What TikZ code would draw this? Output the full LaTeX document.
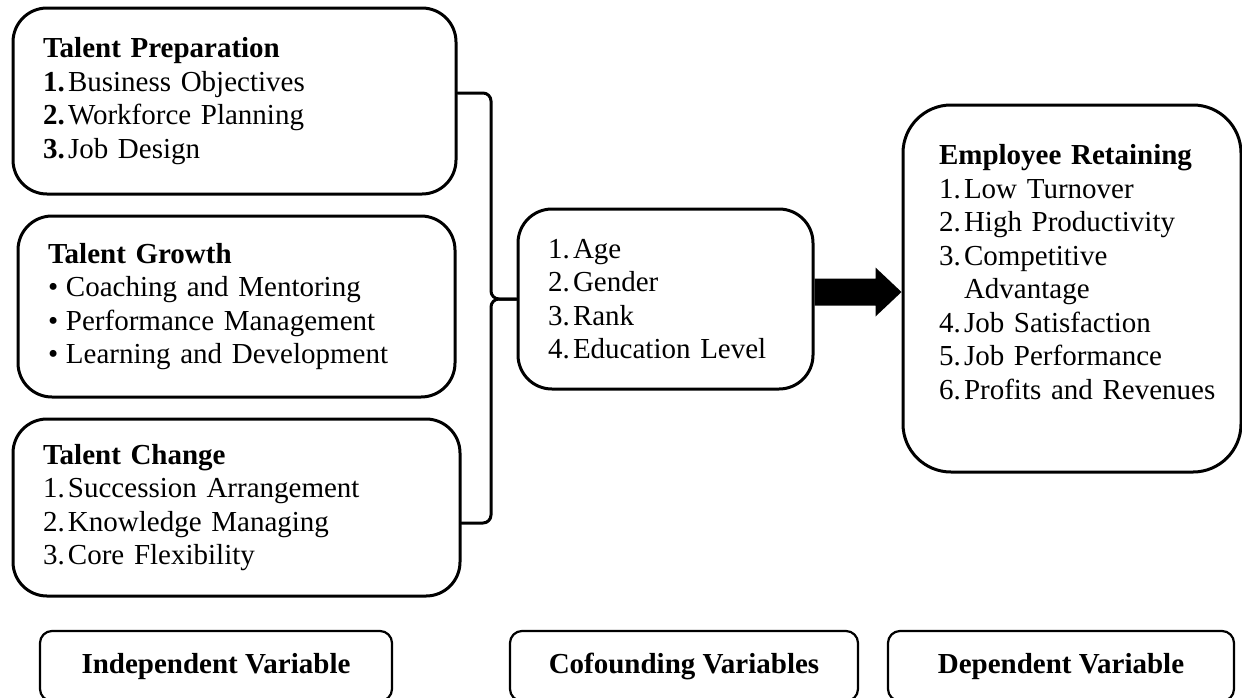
\documentclass[tikz,border=0pt]{standalone}
\usepackage{fontspec}
\setmainfont{Liberation Serif}
\usetikzlibrary{calc}
\newcommand{\numitem}[2]{\makebox[25pt][l]{#1}\mbox{#2}}
\newcommand{\dotitem}[1]{\makebox[18pt][l]{\textbullet}\mbox{#1}}

\begin{document}
\begin{tikzpicture}[x=1pt, y=-1pt, line cap=round, line join=round,
  itembox/.style={draw, line width=3pt, rounded corners=34pt, align=left,
    inner xsep=30pt, inner ysep=0pt, font=\fontsize{29}{33.5}\selectfont},
  tagbox/.style={draw, line width=2.2pt, rounded corners=12pt, minimum height=70pt,
    inner sep=0pt, text height=20pt, text depth=6pt,
    font=\bfseries\fontsize{29}{32}\selectfont},
  brace/.style={line width=3pt, rounded corners=8pt}]

% canvas
\useasboundingbox (0,0) rectangle (1242,697);
\clip (0,0) rectangle (1242,697);

% independent variables
\node[itembox, text width=383pt, minimum width=443pt, minimum height=186pt] (tp) at (234.5,101)
  {\textbf{Talent Preparation}\\
   \numitem{\textbf{1.}}{Business Objectives}\\
   \numitem{\textbf{2.}}{Workforce Planning}\\
   \numitem{\textbf{3.}}{Job Design}};
\node[itembox, text width=377pt, minimum width=437pt, minimum height=181pt] (tg) at (236.5,306.5)
  {\textbf{Talent Growth}\\
   \dotitem{Coaching and Mentoring}\\
   \dotitem{Performance Management}\\
   \dotitem{Learning and Development}};
\node[itembox, text width=387pt, minimum width=447pt, minimum height=177pt] (tc) at (236.5,507.5)
  {\textbf{Talent Change}\\
   \numitem{1.}{Succession Arrangement}\\
   \numitem{2.}{Knowledge Managing}\\
   \numitem{3.}{Core Flexibility}};

% cofounding variables
\node[itembox, text width=235pt, minimum width=295pt, minimum height=180pt] (mid) at (665.5,299)
  {\numitem{1.}{Age}\\
   \numitem{2.}{Gender}\\
   \numitem{3.}{Rank}\\
   \numitem{4.}{Education Level}};

% dependent variable
\node[itembox, rounded corners=48pt, inner xsep=36pt, text width=266pt, minimum width=338pt,
  minimum height=367pt] (er) at (1072,288.5)
  {\textbf{Employee Retaining}\\
   \numitem{1.}{Low Turnover}\\
   \numitem{2.}{High Productivity}\\
   \numitem{3.}{Competitive}\\
   \numitem{}{Advantage}\\
   \numitem{4.}{Job Satisfaction}\\
   \numitem{5.}{Job Performance}\\
   \numitem{6.}{Profits and Revenues}\\
   \mbox{}};

% brace joining the talent boxes
\coordinate (bx) at (491,0);
\draw[brace] (tp.east |- 0,93) -- (bx |- 0,93) -- (bx |- mid.west) -- (mid.west);
\draw[brace] (mid.west) -- (bx |- mid.west) -- (bx |- 0,523) -- (tc.east |- 0,523);

% block arrow
\coordinate (arrS) at (mid.east |- 0,292);
\coordinate (arrE) at (er.west |- 0,292);
\coordinate (arrH) at ([xshift=-26pt]arrE);
\fill (arrS |- 0,278.5) -- (arrH |- 0,278.5) -- (arrH |- 0,267.5) -- (arrE)
  -- (arrH |- 0,316.5) -- (arrH |- 0,305.5) -- (arrS |- 0,305.5) -- cycle;

% legend boxes
\node[tagbox, minimum width=352pt] (indep) at (216,666) {Independent Variable};
\node[tagbox, minimum width=348pt] (cofound) at (684,666) {Cofounding Variables};
\node[tagbox, minimum width=346pt] (dep) at (1061,666) {Dependent Variable};

\end{tikzpicture}
\end{document}
